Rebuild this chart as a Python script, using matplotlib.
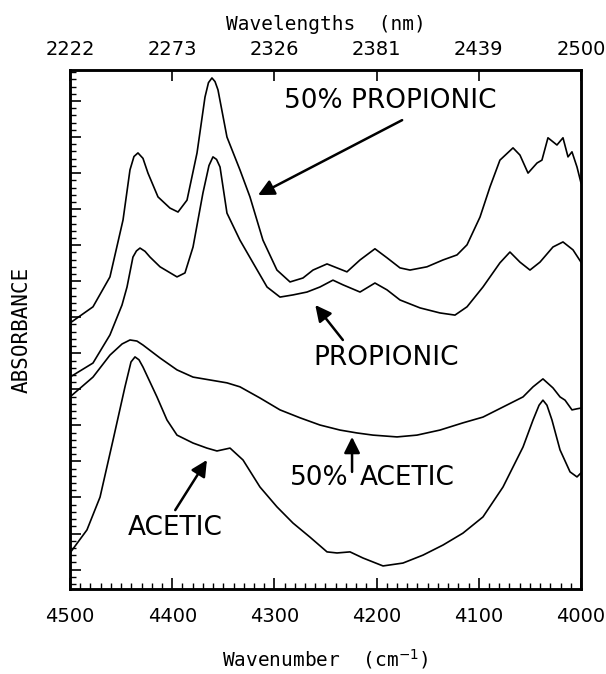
import numpy as np
import matplotlib
matplotlib.use("Agg")
import matplotlib.pyplot as plt
from matplotlib.ticker import FixedLocator, MultipleLocator

MONO = ['DejaVu Sans Mono']
plt.rcParams['font.family'] = ['DejaVu Sans']

# 50% propionic acid spectrum
wn_prop50 = [4500, 4477.5, 4460.9, 4448.1, 4441.3, 4437.4, 4433.5, 4428.6, 4423.7, 4413.9,
             4402.2, 4394.3, 4385.5, 4375.7, 4367.9, 4364.5, 4361.1, 4358.1, 4355.2, 4346.4,
             4333.7, 4323.9, 4311.2, 4297.5, 4284.7, 4272.0, 4262.2, 4248.5, 4229.0, 4216.2,
             4201.6, 4189.8, 4177.1, 4167.3, 4150.7, 4135.0, 4121.3, 4111.5, 4098.8, 4089.0,
             4079.3, 4066.5, 4059.7, 4051.8, 4043.0, 4038.2, 4032.3, 4023.5, 4017.6, 4012.7,
             4008.8, 4003.9, 4000]
abs_prop50 = [0.738, 0.783, 0.866, 1.024, 1.163, 1.200, 1.210, 1.195, 1.154, 1.088,
              1.057, 1.046, 1.079, 1.210, 1.365, 1.405, 1.418, 1.408, 1.385, 1.254,
              1.163, 1.088, 0.968, 0.885, 0.852, 0.863, 0.885, 0.902, 0.880, 0.913,
              0.944, 0.919, 0.891, 0.885, 0.894, 0.913, 0.927, 0.955, 1.032, 1.116,
              1.190, 1.224, 1.204, 1.154, 1.182, 1.190, 1.252, 1.232, 1.252, 1.199,
              1.213, 1.171, 1.127]

# propionic acid
wn_prop = [4500, 4477.5, 4460.9, 4449.1, 4444.2, 4438.4, 4435.0, 4431.5, 4426.6, 4421.7,
           4411.9, 4395.3, 4387.5, 4379.6, 4369.9, 4364.0, 4360.1, 4356.6, 4353.2, 4346.4,
           4333.7, 4320.9, 4307.2, 4294.5, 4281.8, 4268.1, 4255.4, 4242.7, 4232.9, 4216.2,
           4201.6, 4189.8, 4177.1, 4157.5, 4138.0, 4123.3, 4111.5, 4095.9, 4079.3, 4069.5,
           4059.7, 4049.9, 4040.1, 4027.4, 4017.6, 4007.8, 4000]
abs_prop = [0.588, 0.627, 0.705, 0.788, 0.838, 0.921, 0.938, 0.946, 0.937, 0.921,
            0.894, 0.866, 0.877, 0.949, 1.099, 1.175, 1.199, 1.192, 1.171, 1.043,
            0.968, 0.905, 0.838, 0.810, 0.816, 0.824, 0.838, 0.857, 0.844, 0.824,
            0.849, 0.830, 0.802, 0.780, 0.766, 0.760, 0.783, 0.838, 0.905, 0.935,
            0.907, 0.885, 0.907, 0.949, 0.963, 0.941, 0.907]

# 50% acetic acid
wn_acet50 = [4500, 4477.5, 4460.9, 4449.0, 4441.3, 4434.5, 4428.6, 4411.9, 4395.3, 4379.6,
             4363.0, 4346.4, 4333.7, 4314.1, 4294.5, 4274.9, 4255.4, 4235.8, 4219.2, 4203.5,
             4180.0, 4160.5, 4138.0, 4115.5, 4095.9, 4076.3, 4056.7, 4046.9, 4037.2, 4027.4,
             4020.5, 4015.6, 4008.8, 4003.9, 4000]
abs_acet50 = [0.533, 0.588, 0.649, 0.680, 0.691, 0.688, 0.677, 0.641, 0.608, 0.588,
              0.580, 0.572, 0.561, 0.530, 0.497, 0.475, 0.455, 0.441, 0.433, 0.427,
              0.422, 0.427, 0.441, 0.461, 0.477, 0.505, 0.533, 0.561, 0.583, 0.558,
              0.533, 0.524, 0.497, 0.500, 0.502]

# acetic acid
wn_acet = [4500, 4483.4, 4470.6, 4457.9, 4446.2, 4440.3, 4436.4, 4432.5, 4428.6, 4414.9,
           4405.1, 4395.3, 4379.6, 4366.0, 4356.2, 4343.4, 4330.7, 4314.1, 4297.5, 4281.8,
           4265.2, 4248.5, 4238.7, 4226.0, 4213.3, 4193.7, 4174.2, 4154.6, 4135.0, 4115.5,
           4095.9, 4076.3, 4056.7, 4046.9, 4041.0, 4037.2, 4033.3, 4028.4, 4020.5, 4010.7,
           4003.9, 4000]
abs_acet = [0.100, 0.164, 0.255, 0.413, 0.561, 0.630, 0.644, 0.636, 0.616, 0.533,
            0.469, 0.427, 0.405, 0.391, 0.383, 0.391, 0.358, 0.283, 0.228, 0.183,
            0.144, 0.103, 0.100, 0.103, 0.086, 0.064, 0.072, 0.094, 0.122, 0.155,
            0.200, 0.283, 0.394, 0.469, 0.510, 0.524, 0.510, 0.469, 0.386, 0.325,
            0.311, 0.322]

wn_ticks = [4500, 4400, 4300, 4200, 4100, 4000]
nm_labels = ['2222', '2273', '2326', '2381', '2439', '2500']

fig = plt.figure(figsize=(6.06, 6.74), dpi=100)
ax = fig.add_axes([0.1155, 0.1261, 0.8432, 0.7700])

for wn, a in [(wn_prop50, abs_prop50), (wn_prop, abs_prop),
              (wn_acet50, abs_acet50), (wn_acet, abs_acet)]:
    ax.plot(wn, a, color='k', lw=1.2)

ax.set_xlim(4500, 4000)
ax.set_ylim(0, 1.44)

# bottom axis: wavenumber
ax.xaxis.set_major_locator(FixedLocator(wn_ticks))
ax.xaxis.set_minor_locator(MultipleLocator(10))
ax.tick_params(axis='x', which='major', direction='in', length=8, width=1.2,
               labelsize=14, pad=13)
ax.tick_params(axis='x', which='minor', direction='in', length=4, width=1.0)
ax.set_xlabel('Wavenumber  (cm$^{-1}$)', fontsize=14, family=MONO, labelpad=15)

# left axis: absorbance, no numbers
ax.yaxis.set_major_locator(FixedLocator(np.arange(0.054, 1.44, 0.1)))
ax.yaxis.set_minor_locator(FixedLocator(np.arange(0.014, 1.44, 0.02)))
ax.tick_params(axis='y', which='major', direction='in', length=8, width=1.2, labelleft=False)
ax.tick_params(axis='y', which='minor', direction='in', length=4, width=1.0)
ax.set_ylabel('ABSORBANCE', fontsize=15, family=MONO, labelpad=24)

# top axis: wavelength in nm
top = ax.twiny()
top.set_xlim(ax.get_xlim())
top.xaxis.set_major_locator(FixedLocator(wn_ticks))
top.set_xticklabels(nm_labels)
top.tick_params(axis='x', which='major', direction='in', length=8, width=1.2,
                labelsize=14, pad=8)
top.set_xlabel('Wavelengths  (nm)', fontsize=14, family=MONO, labelpad=7)

for a_ in (ax, top):
    for s in a_.spines.values():
        s.set_linewidth(1.8)

# labels and arrows
lab = dict(fontsize=19, ha='center', va='center')
ax.text(4187, 1.354, '50% PROPIONIC', **lab)
ax.text(4191, 0.641, 'PROPIONIC', **lab)
ax.text(4256, 0.308, '50%', **lab)
ax.text(4170, 0.308, 'ACETIC', **lab)
ax.text(4397, 0.169, 'ACETIC', **lab)

arrows = [((4175, 1.301), (4316, 1.093)),
          ((4233, 0.691), (4260, 0.788)),
          ((4224, 0.325), (4224, 0.422)),
          ((4397, 0.219), (4366, 0.358))]
for tail, tip in arrows:
    ax.annotate('', xy=tip, xytext=tail,
                arrowprops=dict(arrowstyle='-|>', color='k', lw=1.8,
                                mutation_scale=24, shrinkA=0, shrinkB=0))

fig.savefig('out.png', dpi=100)
